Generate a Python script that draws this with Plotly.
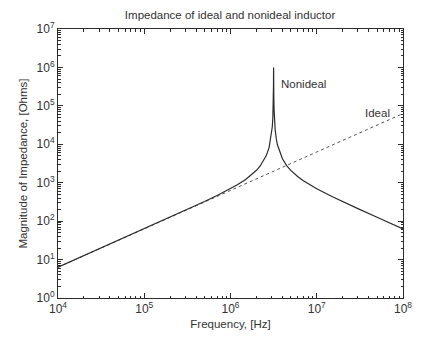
import plotly.graph_objects as go

# Ideal inductor (straight line on log-log)
ideal_freq = [1e4, 1e8]
ideal_mag = [6.3, 6.3e4]

# Nonideal inductor
nonideal_freq = [1e4, 1e5, 2e5, 3e5, 5e5, 7e5, 1e6, 1.2e6, 1.5e6, 1.8e6, 2e6, 2.2e6,
                 2.5e6, 2.6e6, 2.8e6, 3.0e6, 3.05e6, 3.1e6, 3.12e6, 3.14e6, 3.15e6,
                 3.155e6, 3.16e6, 3.165e6, 3.17e6, 3.18e6, 3.2e6, 3.25e6, 3.3e6,
                 3.4e6, 3.5e6, 4e6, 4.5e6, 5e6, 6e6, 7e6, 8e6, 1e7, 1.5e7, 2e7,
                 3e7, 5e7, 7e7, 1e8]
nonideal_mag = [6.3, 63, 126.5, 190.7, 323, 464, 700, 883, 1219, 1678, 2100, 2690,
                4200, 5071, 8205, 18900, 28090, 51400, 78120, 156750, 314000,
                630000, 1000000, 630000, 315000, 157700, 79100, 35400, 22950,
                13580, 9720, 4186, 2758, 2100, 1451, 1129, 932, 700, 439, 322,
                212, 126, 90, 63]

x_ticks = [1e4, 1e5, 1e6, 1e7, 1e8]
x_tick_labels = ["10<sup>4</sup>", "10<sup>5</sup>", "10<sup>6</sup>", "10<sup>7</sup>", "10<sup>8</sup>"]
y_ticks = [1e0, 1e1, 1e2, 1e3, 1e4, 1e5, 1e6, 1e7]
y_tick_labels = ["10<sup>0</sup>", "10<sup>1</sup>", "10<sup>2</sup>", "10<sup>3</sup>",
                 "10<sup>4</sup>", "10<sup>5</sup>", "10<sup>6</sup>", "10<sup>7</sup>"]

line_col = "#2b2b2b"
text_col = "#333333"
font_fam = "Liberation Sans, Arial, sans-serif"

fig = go.Figure()
fig.add_trace(go.Scatter(x=ideal_freq, y=ideal_mag, mode="lines",
                         line=dict(color="#555555", width=1, dash="dot"),
                         showlegend=False))
fig.add_trace(go.Scatter(x=nonideal_freq, y=nonideal_mag, mode="lines",
                         line=dict(color=line_col, width=1.2),
                         showlegend=False))

fig.add_annotation(x=6.562, y=5.56, xref="x", yref="y", text="Nonideal",
                   showarrow=False, xanchor="left", yanchor="middle",
                   font=dict(size=11.5, color=text_col, family=font_fam))
fig.add_annotation(x=7.536, y=4.82, xref="x", yref="y", text="Ideal",
                   showarrow=False, xanchor="left", yanchor="middle",
                   font=dict(size=11.5, color=text_col, family=font_fam))

axis_common = dict(
    showline=True, linecolor=line_col, linewidth=1, mirror="ticks",
    ticks="inside", ticklen=5, tickcolor=line_col, tickwidth=1,
    showgrid=False, zeroline=False,
    tickfont=dict(size=12, color=text_col, family=font_fam),
    minor=dict(ticks="inside", ticklen=2.5, tickcolor=line_col, dtick="D1", showgrid=False),
)

fig.update_xaxes(type="log", range=[4, 8], tickmode="array", tickvals=x_ticks,
                 ticktext=x_tick_labels,
                 title=dict(text="Frequency, [Hz]", standoff=4,
                            font=dict(size=11.5, color=text_col, family=font_fam)),
                 **axis_common)
fig.update_yaxes(type="log", range=[0, 7], tickmode="array", tickvals=y_ticks,
                 ticktext=y_tick_labels,
                 title=dict(text="Magnitude of Impedance, [Ohms]", standoff=6,
                            font=dict(size=11.5, color=text_col, family=font_fam)),
                 **axis_common)

fig.update_layout(
    width=430, height=340,
    margin=dict(l=58, r=27, t=29, b=40),
    paper_bgcolor="white", plot_bgcolor="white",
    title=dict(text="Impedance of ideal and nonideal inductor", x=0.535, xanchor="center",
               y=0.955, yanchor="middle",
               font=dict(size=11.5, color=text_col, family=font_fam)),
    showlegend=False,
)

fig.write_html("out.html")
